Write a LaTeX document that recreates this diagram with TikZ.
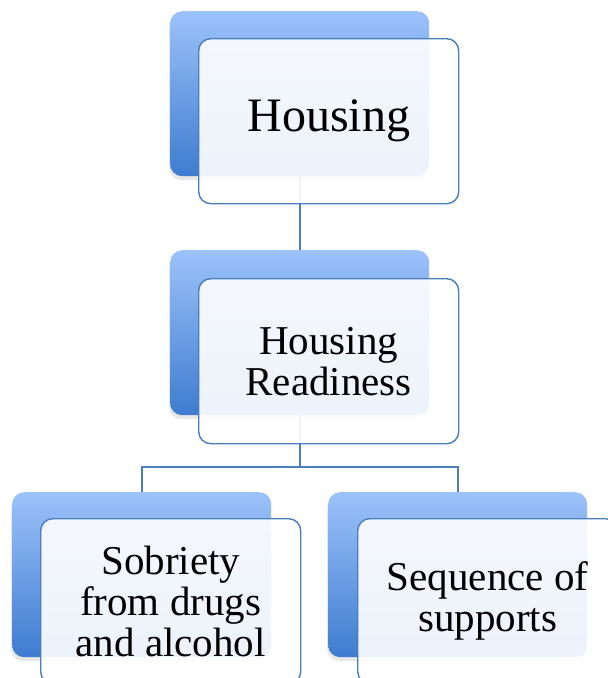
\documentclass[tikz,border=0pt]{standalone}
\usepackage{fontspec}
\setmainfont{Liberation Serif}
\usetikzlibrary{shadows}
\definecolor{bluetop}{HTML}{9CC2FA}
\definecolor{bluebot}{HTML}{3E7CD0}
\definecolor{lineblue}{HTML}{4A7EBB}
\tikzset{
  backbox/.style={rectangle, rounded corners=12pt, minimum width=259pt, minimum height=165pt,
    inner sep=0pt, anchor=north west, top color=bluetop, bottom color=bluebot, draw=none,
    drop shadow={shadow xshift=-1pt, shadow yshift=-4pt, opacity=0.18}},
  frontbox/.style={rectangle, rounded corners=12pt, minimum width=260pt, minimum height=165pt,
    inner sep=0pt, anchor=north west, draw=lineblue, line width=1.4pt, fill=white,
    fill opacity=0.91, text opacity=1, align=center, text=black},
  conn/.style={draw=lineblue, line width=1.6pt},
  bigtext/.style={font=\fontsize{48}{58}\selectfont},
  midtext/.style={font=\fontsize{41}{41}\selectfont}
}
\begin{document}
\begin{tikzpicture}[x=1pt, y=-1pt]
\useasboundingbox (0,0) rectangle (608,678);
\clip (0,0) rectangle (608,678);
\fill[white] (0,0) rectangle (608,678);
% back boxes
\node[backbox] (b1) at (170,11) {};
\node[backbox] (b2) at (170,250) {};
\node[backbox] (b3) at (12,492) {};
\node[backbox] (b4) at (328,492) {};
% connectors
\coordinate (j) at (b2.south |- 0,467);
\draw[conn] (b1.south) -- (b2.north);
\draw[conn] (b2.south) -- (j) -| (b3.north);
\draw[conn] (j) -| (b4.north);
% front boxes
\node[frontbox, bigtext] (f1) at (198,38) {Housing};
\node[frontbox, midtext] (f2) at (198,278) {Housing\\Readiness};
\node[frontbox, midtext] (f3) at (40,518) {Sobriety\\from drugs\\and alcohol};
\node[frontbox, midtext] (f4) at (357,518) {Sequence of\\supports};
\end{tikzpicture}
\end{document}
